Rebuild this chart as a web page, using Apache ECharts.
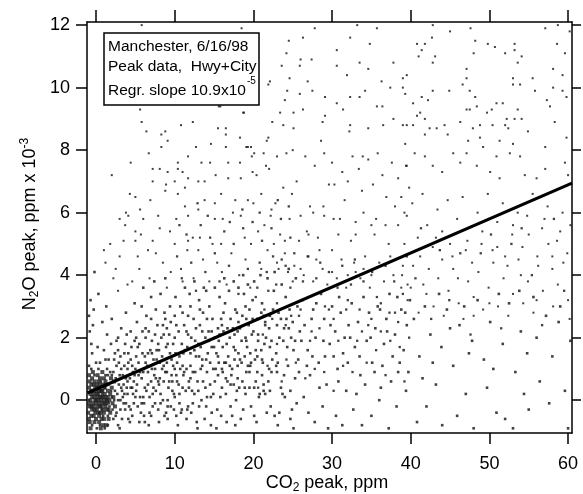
<!DOCTYPE html>
<html><head><meta charset="utf-8">
<script src="https://cdn.jsdelivr.net/npm/echarts@6/dist/echarts.min.js"></script>
<style>html,body{margin:0;padding:0;background:#fff}#c{width:583px;height:494px}</style>
</head><body><div id="c"></div>
<script>
// ---- data (CO2 peak ppm, N2O peak ppm x 1e-3) ----
const xTicks = [0, 10, 20, 30, 40, 50, 60];
const yTicks = [0, 2, 4, 6, 8, 10, 12];
const regrSlope = 0.109;      // 10.9e-5 ppm/ppm, in units of 1e-3
const regrIntercept = 0.35;
const regrRange = [-1.1, 60.5];

const core = [[-0.8,-0.2],[-0.5,0.1],[-0.2,-0.3],[0.1,0.2],[0.4,-0.1],[0.7,0.3],[1.0,0.0],[-0.9,0.4],[-0.6,-0.5],[-0.3,0.5],[0.0,-0.6],[0.3,0.6],[0.6,-0.4],[0.9,0.5],[1.2,-0.2],[1.5,0.3],[-0.7,0.0],[-0.4,-0.1],[-0.1,0.0],[0.2,-0.2],[0.5,0.1],[0.8,-0.1],[1.1,0.2],[1.4,-0.3],[1.7,0.0],[2.0,0.4],[-1.0,-0.4],[-0.5,0.7],[0.0,0.3],[0.5,0.5],[1.0,0.7],[1.3,0.5],[1.8,-0.4],[2.2,0.1],[-0.8,-0.7],[-0.2,-0.7],[0.4,-0.7],[1.0,-0.6],[1.6,-0.6],[2.4,-0.2],[-0.6,0.3],[-0.1,0.4],[0.3,0.0],[0.6,0.0],[0.9,0.1],[0.2,0.1],[-0.3,-0.2],[0.0,-0.1],[0.4,0.3],[0.7,-0.2],[1.2,0.1],[-0.9,0.8],[-0.4,0.9],[0.2,0.8],[0.8,0.9],[1.9,0.7],[2.3,0.6],[-0.7,-0.9],[0.6,-0.9],[1.3,-0.8],
[-0.9,-0.1],[-0.7,0.2],[-0.5,-0.3],[-0.3,0.2],[-0.1,-0.4],[0.1,0.5],[0.3,-0.4],[0.5,-0.2],[0.7,0.1],[0.9,-0.3],[1.1,0.4],[1.3,-0.1],[1.5,0.1],[-0.8,0.6],[-0.6,-0.2],[-0.4,0.3],[-0.2,0.1],[0.0,0.0],[0.2,0.4],[0.4,-0.5],[0.6,0.3],[0.8,0.3],[1.0,-0.4],[1.2,0.6],[1.4,0.0],[1.6,-0.3],[1.8,0.2],[-0.9,-0.6],[-0.3,-0.5],[0.1,-0.3],[0.5,0.7],[0.9,-0.8],[-0.6,0.5],[-0.2,0.6],[0.3,0.2],[0.7,-0.6],[1.1,-0.1],[2.1,-0.1]];

const band = [[1.2,1.3],[1.5,-0.5],[1.8,0.9],[2.1,-0.3],[2.4,1.5],[2.7,0.2],[3.0,0.8],[3.3,-0.6],[3.6,1.1],[3.9,0.4],[4.2,-0.2],[4.5,1.7],[4.8,0.6],[1.4,2.1],[2.0,2.6],[2.6,1.9],[3.2,2.3],[3.8,2.8],[4.4,2.2],[4.9,3.1],[1.6,0.5],[2.2,0.9],[2.8,-0.8],[3.4,0.1],[4.0,1.0],[4.6,-0.5],[1.1,-0.9],[2.5,-0.5],[3.7,-0.3],[4.3,0.7],[1.9,1.8],[3.1,1.4],[4.1,1.5],[2.3,0.0],[3.5,0.5],[4.7,0.2],[1.3,3.0],[0.8,2.5],[-0.5,1.5],[-0.8,2.2],[0.2,1.7],[-0.3,2.9],[0.5,1.2],[-0.9,1.1],
[5.1,0.3],[5.4,1.2],[5.7,-0.4],[6.0,0.9],[6.3,2.0],[6.6,0.5],[6.9,1.6],[7.2,-0.2],[7.5,1.0],[7.8,2.4],[8.1,0.7],[8.4,1.4],[8.7,-0.5],[9.0,0.9],[9.3,2.1],[9.6,1.3],[9.9,0.2],[5.2,2.5],[5.8,3.0],[6.4,2.7],[7.0,3.3],[7.6,2.9],[8.2,3.4],[8.8,2.6],[9.4,3.0],[5.5,-0.7],[6.1,-0.1],[6.7,-0.8],[7.3,0.4],[7.9,-0.3],[8.5,0.0],[9.1,-0.6],[9.7,0.6],[5.3,1.7],[5.9,1.5],[6.5,1.1],[7.1,1.9],[7.7,1.3],[8.3,2.0],[8.9,1.7],[9.5,2.5],[5.6,0.1],[6.2,0.4],[6.8,0.1],[7.4,0.8],[8.0,0.5],[8.6,1.1],[9.2,0.4],[9.8,1.8],[6.0,3.6],[7.4,3.8],[8.8,3.9],[5.0,1.0],[6.2,1.4],[7.0,0.6],[8.0,1.6],[9.0,1.2],[9.9,-0.3],
[10.2,0.8],[10.5,2.2],[10.8,-0.4],[11.1,1.5],[11.4,0.3],[11.7,2.7],[12.0,1.1],[12.3,-0.1],[12.6,1.9],[12.9,0.6],[13.2,2.4],[13.5,1.3],[13.8,-0.6],[14.1,0.9],[14.4,3.0],[14.7,1.7],[10.1,3.3],[10.7,3.0],[11.3,3.6],[11.9,3.4],[12.5,3.8],[13.1,3.2],[13.7,3.6],[14.3,2.2],[14.9,0.2],[10.4,-0.8],[11.0,0.4],[11.6,-0.3],[12.2,0.3],[12.8,-0.7],[13.4,0.0],[14.0,-0.2],[14.6,-0.8],[10.3,1.2],[10.9,1.8],[11.5,1.0],[12.1,2.0],[12.7,1.4],[13.3,1.0],[13.9,2.0],[14.5,1.2],[10.6,0.2],[11.2,2.4],[11.8,0.6],[12.4,2.6],[13.0,1.8],[13.6,2.8],[14.2,1.5],[14.8,2.6],[10.0,2.7],[12.0,3.0],[14.0,3.5],
[15.2,1.0],[15.5,2.3],[15.8,0.1],[16.1,1.7],[16.4,3.1],[16.7,0.6],[17.0,2.0],[17.3,-0.5],[17.6,1.3],[17.9,2.8],[18.2,0.4],[18.5,1.9],[18.8,3.4],[19.1,0.9],[19.4,2.4],[19.7,-0.2],[15.1,3.6],[15.7,3.3],[16.3,3.9],[16.9,3.5],[17.5,3.8],[18.1,3.6],[18.7,4.0],[19.3,3.7],[19.9,3.2],[15.4,-0.3],[16.0,0.4],[16.6,-0.7],[17.2,0.8],[17.8,0.0],[18.4,-0.6],[19.0,0.2],[19.6,1.1],[15.3,1.5],[15.9,2.6],[16.5,1.2],[17.1,2.6],[17.7,1.6],[18.3,2.3],[18.9,1.4],[19.5,2.9],[15.6,1.9],[16.2,2.2],[16.8,1.4],[17.4,2.3],[18.0,1.1],[18.6,2.7],[19.2,1.7],[19.8,2.1],[16.0,1.0],[18.0,0.7],[19.0,3.0],
[20.2,1.3],[20.5,2.6],[20.8,0.2],[21.1,3.1],[21.4,1.8],[21.7,-0.4],[22.0,2.3],[22.3,0.9],[22.6,3.5],[22.9,1.5],[23.2,2.8],[23.5,0.4],[23.8,1.9],[24.1,3.3],[24.4,1.1],[24.7,-0.6],[25.0,2.5],[25.3,0.7],[25.6,3.0],[20.1,3.8],[20.9,4.0],[21.8,3.9],[22.7,4.1],[23.6,3.7],[24.5,4.2],[25.4,3.9],[20.4,-0.7],[21.3,0.5],[22.2,-0.2],[23.1,-0.8],[24.0,0.1],[24.9,-0.3],[20.6,1.9],[21.5,2.4],[22.4,1.3],[23.3,2.0],[24.2,2.6],[25.1,1.6],[20.3,0.6],[21.2,1.2],[22.1,1.7],[23.0,0.9],[23.9,2.3],[24.8,2.0],[25.7,1.3],[21.0,2.8],[22.5,2.9],[24.6,2.9],[25.9,2.2],[25.5,-0.1]];

const bandDense = [[2.2,0.6],[2.9,1.2],[3.3,0.3],[3.8,-0.1],[4.4,1.3],[4.9,0.8],[5.3,-0.2],[5.8,0.7],[6.3,1.2],[6.8,-0.4],[7.2,0.2],[7.7,1.6],[8.2,-0.1],[8.6,0.6],[9.1,1.8],[9.5,-0.2],[10.0,1.0],[10.5,0.5],[11.0,1.1],[11.5,-0.6],[12.0,0.7],[12.5,1.6],[13.0,0.3],[13.5,2.2],[14.0,1.3],[14.5,0.5],[15.0,1.7],[15.5,0.8],[16.0,2.4],[16.5,0.2],[17.0,1.1],[17.5,0.5],[18.0,2.2],[18.5,1.2],[19.0,2.0],[19.5,0.4],[20.0,2.2],[20.5,0.9],[21.0,1.6],[21.5,0.2],[22.0,1.0],[2.6,1.1],[3.1,0.0],[3.6,1.5],[4.1,-0.6],[4.6,0.4],[5.1,1.4],[5.6,0.9],[6.1,-0.5],[6.6,1.5],[7.1,1.0],[7.6,0.3],[8.1,1.2],[8.6,2.1],[9.1,0.0],[9.6,0.8],[10.1,1.5],[10.6,-0.1],[11.1,0.8],[11.6,1.7],[12.1,-0.4],[12.6,0.9],[13.1,1.4],[13.6,0.6],[14.1,2.6],[14.6,0.1],[15.1,2.0],[15.6,1.2],[16.1,0.9],[16.6,1.8],[17.1,-0.2],[17.6,2.1],[18.1,1.5],[18.6,0.6],[19.1,2.6],[19.6,1.5],[20.1,0.4],[20.6,2.1],[21.1,0.8],[21.6,2.0],[22.1,0.3],[1.5,0.8],[1.0,1.6],[0.5,-0.8],[0.0,1.2],[-0.6,1.8],[2.8,2.0],[3.9,2.1],[5.1,2.0],[6.3,2.3],[7.5,2.1],[8.7,2.8],[10.2,2.4],[11.7,2.1],[13.2,2.9],[14.7,2.2],[16.2,2.8],[17.7,2.9],[19.3,1.1],[21.3,2.7],[23.0,2.4],[-0.7,3.2],[-0.4,2.4],[-0.9,2.7],[0.3,3.4],[-0.2,4.1]];

const bandExtra = [[0.3,1.0],[0.7,-0.3],[1.1,0.4],[1.4,1.0],[1.7,-0.2],[2.0,0.8],[2.3,1.3],[2.6,-0.4],[2.9,0.5],[3.2,1.0],[3.5,-0.1],[3.8,0.7],[4.1,1.2],[4.4,-0.3],[4.7,0.9],[5.0,0.1],[0.6,0.6],[0.9,-0.5],[1.3,0.0],[1.6,1.3],[1.9,0.3],[2.2,-0.6],[2.5,0.7],[2.8,1.6],[3.1,-0.3],[3.4,0.8],[3.7,1.8],[4.0,0.2],[4.3,-0.7],[4.6,1.1],[4.9,1.9],[0.4,-0.4],[0.8,0.2],[1.2,0.8],[1.6,-0.1],[2.0,0.1],[2.4,0.3],[2.8,0.0],[3.2,0.4],[3.6,0.2],[4.0,0.6],[4.4,0.4],[4.8,-0.1],[-0.5,-0.8],[-0.9,0.0],[-0.6,1.0],[-0.2,0.8],[0.1,-0.9],[1.5,-0.8],[3.0,-0.9],
[5.2,0.5],[5.5,1.8],[5.8,-0.1],[6.1,1.0],[6.4,0.3],[6.7,2.2],[7.0,-0.5],[7.3,1.3],[7.6,0.7],[7.9,1.8],[8.2,0.2],[8.5,2.4],[8.8,0.9],[9.1,-0.2],[9.4,1.5],[9.7,0.3],[10.0,2.0],[10.3,0.6],[10.6,1.4],[10.9,-0.3],[11.2,0.9],[11.5,2.2],[11.8,0.4],[12.0,1.5],[5.4,0.8],[5.9,2.2],[6.2,-0.7],[6.6,0.9],[7.1,1.5],[7.5,-0.1],[7.9,0.6],[8.4,1.0],[8.9,-0.4],[9.3,0.6],[9.8,1.1],[10.2,-0.5],[10.7,1.0],[11.3,1.6],[11.7,-0.2],[6.0,0.1],[7.0,2.6],[8.0,-0.7],[9.0,2.3],[10.0,0.1],[11.0,2.8],
[12.3,0.9],[12.7,2.3],[13.1,-0.2],[13.5,1.1],[13.9,0.4],[14.3,1.9],[14.7,-0.4],[15.1,0.6],[15.5,1.4],[15.9,-0.5],[16.3,1.2],[16.7,2.3],[17.1,0.5],[17.5,1.7],[17.9,0.3],[18.3,1.3],[18.7,-0.3],[19.1,1.9],[19.5,0.9],[19.9,2.6],[20.3,1.6],[20.7,0.1],[21.1,1.3],[21.5,2.5],[21.9,0.6],[22.3,1.9],[22.7,-0.5],[23.1,1.2],[23.5,2.6],[23.9,0.8],[24.3,1.7],[24.7,0.3],[12.5,0.2],[13.3,1.7],[14.1,0.1],[14.9,1.0],[15.7,2.1],[16.5,0.7],[17.3,1.0],[18.1,2.5],[18.9,0.4],[19.7,1.2],[20.5,1.4],[21.3,0.3],[22.1,2.7],[22.9,1.1],[23.7,0.2],[24.5,2.3],[25.3,1.9],[25.8,0.9],[12.9,-0.9],[15.3,-0.9],[17.7,-0.8],[20.1,-0.5],[23.3,-0.4],[25.1,-0.9]];

const midDense = [[20.3,3.3],[20.8,4.4],[21.4,2.9],[21.9,3.5],[22.5,4.6],[23.0,3.1],[23.6,4.5],[24.1,2.4],[24.7,3.6],[25.2,4.7],[25.8,2.7],[26.3,3.8],[26.9,4.6],[27.4,2.2],[28.0,3.9],[28.5,4.4],[29.1,3.0],[29.6,4.1],[30.2,2.6],[30.7,3.6],[31.3,4.3],[31.8,2.9],[32.4,3.7],[32.9,4.5],[33.5,2.9],[34.0,3.8],[34.6,2.4],[35.1,4.1],[35.7,3.3],[36.2,2.2],[36.8,4.3],[37.3,2.8],[37.9,3.8],[38.4,2.5],[39.0,3.4],[39.5,4.6],
[20.6,0.4],[21.2,2.1],[21.8,1.1],[22.4,2.6],[23.0,1.8],[23.6,0.6],[24.2,1.3],[24.8,2.7],[25.4,1.2],[26.0,2.9],[26.6,0.7],[27.2,1.9],[27.8,1.0],[28.4,2.3],[29.0,0.9],[29.6,2.9],[30.2,0.3],[30.8,1.9],[31.4,1.1],[32.0,3.2],[32.6,0.9],[33.2,1.9],[33.8,2.2],[34.4,1.2],[35.0,2.6],[35.6,1.6],[36.2,3.1],[36.8,0.8],[37.4,1.9],[38.0,2.8],[38.6,1.7],[39.2,0.6],[39.8,2.0],
[10.3,4.6],[10.9,3.9],[11.5,5.3],[12.1,4.4],[12.7,3.5],[13.3,5.6],[13.9,4.1],[14.5,5.2],[15.1,4.7],[15.7,3.8],[16.3,5.4],[16.9,4.3],[17.5,5.0],[18.1,3.4],[18.7,5.5],[19.3,4.2],[19.9,5.7],[20.5,3.6],[21.1,5.1],[21.7,4.1],[22.3,5.5],[22.9,3.7],[23.5,5.8],[24.1,4.3],[24.7,5.2],[10.6,5.6],[12.9,6.3],[14.2,5.9],[17.0,5.7],[18.6,6.1],[20.8,6.0],[23.1,6.4],[24.5,6.2],
[40.6,3.9],[41.3,5.5],[42.6,2.6],[43.7,4.8],[44.9,3.2],[46.3,4.7],[47.6,2.1],[48.9,4.7],[50.2,5.3],[51.5,2.3],[52.8,5.0],[54.1,5.5],[55.4,4.0],[56.7,2.4],[58.2,5.8],[59.5,3.5]];

const midLeft = [[5.6,9.3],[15.8,9.4],[18.8,9.2],[10.8,8.8],[12.3,8.9],[6.4,8.6],[8.3,8.5],[8.8,8.6],[9.1,8.3],[8.3,8.1],[6.7,7.9],[4.4,7.6],[7.2,7.4],[8.1,7.4],[9.1,7.3],[10.4,7.6],[11.7,7.8],[12.7,8.1],[14.6,8.2],[15.5,8.7],[16.5,8.7],[16.5,8.1],[18.3,8.4],[19.1,8.1],[19.7,8.1],[13.4,7.6],[14.5,7.6],[16.8,7.6],[18.3,7.6],[10.4,7.4],[11.0,7.3],[8.9,6.9],[7.2,7.0],[5.0,6.5],[6.9,6.4],[8.8,6.7],[10.0,7.0],[11.7,7.1],[13.0,7.0],[13.8,7.0],[15.2,7.2],[16.8,7.1],[18.4,7.1],[19.9,7.3],[3.8,6.0],[5.6,6.1],[6.0,5.8],[7.9,5.9],[3.7,5.6],[5.0,5.4],[5.7,5.3],[8.1,5.5],[9.4,5.4],[10.2,5.8],[11.3,6.2],[11.7,5.9],[13.0,6.1],[13.8,6.4],[15.1,6.3],[15.9,6.6],[17.7,6.4],[19.3,6.4],[17.4,6.0],[18.4,5.9],[15.1,5.8],[16.1,5.8],[10.4,6.6],[11.3,6.8],[10.0,5.0],[11.7,5.1],[7.2,5.1],[13.2,5.2],[15.9,5.0],[18.9,5.2],[19.7,5.0],[5.0,5.1],[4.1,5.9]];

const midLow = [[1.0,4.8],[2.2,3.9],[3.0,4.6],[4.0,3.7],[5.5,4.2],[6.8,3.9],[7.6,4.7],[8.5,4.4],[9.0,3.6],[10.8,4.2],[11.6,4.8],[12.4,3.9],[13.6,4.5],[14.4,3.8],[15.4,4.4],[16.6,3.7],[17.2,4.7],[18.2,4.0],[19.0,4.5],[19.6,3.6],[2.8,3.5],[1.8,5.0],[6.6,4.8],[13.0,4.8],[2.5,4.2],[3.5,5.1],[4.6,3.8],[5.3,4.6],[11.0,3.8],[16.0,4.1],[9.5,4.1],[12.3,5.2],[14.8,5.0],[1.2,4.4],[4.3,6.6],[3.0,5.8],[2.0,7.2]];

const midCenter = [[19.8,7.8],[20.4,7.2],[21.0,6.6],[21.6,7.5],[22.2,5.9],[22.8,6.3],[23.4,5.3],[24.0,4.7],[24.6,5.8],[25.2,4.3],[25.8,5.1],[26.4,4.0],[27.0,4.6],[27.6,3.8],[28.2,5.2],[28.8,4.2],[29.4,3.7],[30.0,4.8],[30.6,3.9],[31.2,4.5],[31.8,3.6],[32.4,5.1],[33.0,4.1],[33.6,3.9],[34.2,4.6],[34.8,3.6],[35.4,5.3],[36.0,4.4],[36.6,3.8],[37.2,5.0],[37.8,4.0],[38.4,5.6],[39.0,4.3],[39.6,3.7],[20.1,7.9],[21.3,7.9],[22.0,7.4],[23.0,7.8],[24.2,7.9],[26.6,7.8],[27.8,7.5],[29.0,7.9],[30.0,7.6],[31.3,7.3],[32.6,7.8],[33.4,7.4],[34.6,7.7],[35.8,7.9],[36.4,7.2],[37.6,7.6],[38.4,7.1],[39.4,7.5],[39.8,6.8],[35.2,6.9],[36.9,6.5],[38.0,6.2],[39.2,6.0],[34.0,6.0],[35.6,5.8],[36.8,5.6],[33.0,5.7],[31.6,6.4],[30.2,5.8],[28.9,6.2],[27.2,6.2],[26.0,5.9],[29.6,6.9],[32.0,7.0],[33.8,6.7],[25.5,7.0],[23.8,6.8],[21.4,5.6],[20.6,5.4],[22.6,5.0],[24.4,4.1],[37.4,4.6],[38.8,3.6],[35.0,4.0],[32.8,4.4],[30.8,5.3],[28.4,4.8],[26.8,5.4],[25.0,3.8],[23.2,4.2],[21.8,4.8],[20.0,6.3],[21.0,4.2],[23.0,4.4],[24.0,5.1],[26.0,4.2],[27.0,5.3],[28.0,4.5],[29.0,5.9],[30.0,4.1],[31.0,5.8],[32.0,4.0],[33.0,5.3],[34.0,4.2],[35.0,5.6],[27.6,6.0],[30.3,6.9],[33.9,7.8],[22.3,6.1],[24.9,6.6]];

const upper = [[5.8,12.0],[18.5,11.9],[15.6,9.4],[18.7,9.2],[22.1,10.2],[24.5,11.5],[26.0,10.9],[27.5,9.9],[28.8,8.9],[25.1,8.7],[21.9,10.1],[27.8,11.9],[33.2,12.0],[35.7,11.9],[34.8,11.4],[26.3,11.6],[24.2,11.1],[27.4,10.9],[30.6,11.2],[32.3,11.6],[37.8,10.8],[34.6,10.6],[33.5,10.8],[31.9,10.4],[30.6,10.7],[26.9,10.2],[24.6,10.3],[23.6,10.7],[25.9,10.7],[29.1,9.7],[24.3,9.9],[24.0,9.6],[25.9,9.8],[30.6,9.5],[32.3,9.7],[33.5,9.7],[34.2,9.9],[36.3,10.2],[39.0,10.3],[37.4,10.0],[39.3,9.8],[35.7,9.4],[36.4,9.4],[31.4,9.3],[29.1,9.1],[26.3,9.3],[25.1,9.2],[23.4,9.2],[23.8,8.8],[22.4,8.9],[32.3,8.8],[34.6,8.7],[36.5,8.8],[37.8,9.0],[39.0,8.8],[21.7,8.3],[16.5,8.5],[19.3,8.1],[21.9,8.4],[25.0,8.0],[28.6,8.3],[32.2,8.6],[5.8,8.9],
[42.8,12.0],[45.0,11.8],[47.6,11.9],[42.7,11.6],[40.8,11.4],[41.8,11.4],[48.2,11.5],[49.8,11.4],[53.2,11.4],[57.1,11.9],[58.7,12.0],[60.2,11.8],[58.6,11.4],[50.7,11.3],[41.4,11.2],[41.0,11.0],[43.1,11.0],[42.8,10.8],[48.0,11.1],[52.0,11.1],[53.2,11.2],[54.1,11.0],[53.6,10.8],[59.6,11.1],[58.1,10.6],[59.3,10.4],[47.1,10.6],[47.1,10.3],[46.6,10.1],[55.5,10.3],[53.0,10.3],[39.5,10.4],[39.0,10.0],[42.8,9.9],[44.9,9.9],[47.5,9.9],[53.0,10.1],[53.9,10.1],[55.8,9.9],[58.1,10.0],[59.3,9.9],[59.8,9.7],[41.4,9.7],[42.2,9.6],[48.2,9.7],[57.3,9.6],[40.3,9.5],[47.1,9.3],[47.5,9.3],[48.4,9.4],[50.9,9.5],[51.7,9.5],[50.3,9.3],[49.7,9.2],[53.6,9.3],[57.7,9.4],[41.2,9.2],[40.8,9.1],[41.8,9.0],[53.2,9.0],[52.2,9.0],[54.1,9.0],[58.3,8.9],[46.3,8.9],[50.4,8.8],[52.0,8.8],[39.5,8.8],[40.3,8.8],[42.4,8.7],[43.3,8.7],[44.3,8.8],[47.9,8.7],[48.8,8.8],[52.4,8.7],[54.9,8.6],[41.8,8.5],[44.7,8.5],[47.3,8.3],[48.8,8.4],[51.3,8.3],[53.0,8.2],[39.3,8.2],[59.8,8.4],[57.1,8.1],[40.5,7.9],[41.8,7.8],[45.4,7.9],[47.1,7.9],[49.2,8.1],[50.9,7.8],[52.6,7.9],[53.9,7.8],[59.6,7.6],[57.1,7.4],[39.5,7.5],[42.8,7.5],[44.0,7.3],[46.3,7.6],[48.4,7.5],[50.1,7.3],[51.3,7.1],[54.5,7.2],[56.0,7.1],[60.0,7.2]];

const right = [[38.8,6.5],[39.5,5.9],[40.2,6.3],[40.9,5.2],[41.5,6.6],[42.1,5.6],[42.8,4.9],[43.4,6.1],[44.0,5.4],[44.7,6.4],[45.3,4.6],[45.9,5.8],[46.6,6.5],[47.2,5.1],[47.8,4.4],[48.5,6.0],[49.1,5.4],[49.8,6.6],[50.4,4.8],[51.0,5.7],[51.7,6.3],[52.3,4.3],[52.9,5.3],[53.6,6.0],[54.2,4.9],[54.8,5.9],[55.5,6.6],[56.1,4.6],[56.7,5.5],[57.4,6.2],[58.0,4.2],[58.6,5.1],[59.3,6.0],[59.9,4.7],[60.3,5.6],[38.9,4.0],[39.6,3.2],[40.3,4.3],[41.0,2.8],[41.6,3.7],[42.3,4.2],[42.9,3.0],[43.5,3.9],[44.2,2.7],[44.8,3.5],[45.4,4.2],[46.1,3.1],[46.7,2.6],[47.3,3.8],[48.0,3.3],[48.6,4.1],[49.2,2.9],[49.9,3.6],[50.5,4.4],[51.1,3.0],[51.8,3.9],[52.4,2.7],[53.0,3.4],[53.7,4.5],[54.3,3.1],[54.9,3.8],[55.6,2.8],[56.2,4.3],[56.8,3.5],[57.5,5.0],[58.1,3.0],[58.7,3.7],[59.4,4.4],[60.0,3.2],[40.0,3.6],[42.0,3.4],[44.0,4.5],[46.0,3.9],[48.0,2.7],[50.0,3.1],[52.0,4.6],[54.0,4.0],[56.0,3.2],[58.0,4.6],[60.2,2.6],[39.2,5.0],[41.2,4.6],[43.2,5.2],[45.0,5.0],[47.0,4.8],[49.0,5.0],[51.0,4.9],[53.0,5.6],[55.0,5.3],[57.0,5.8],[59.0,5.4]];

const lowerRight = [[26.2,3.2],[26.5,2.4],[26.9,1.6],[27.2,0.8],[27.6,2.9],[27.9,2.0],[28.3,1.2],[28.6,3.4],[29.0,2.6],[29.3,0.5],[29.7,1.8],[30.0,3.0],[30.4,2.2],[30.7,1.0],[31.1,2.8],[31.4,1.5],[31.8,0.3],[32.1,2.4],[26.4,0.1],[27.0,-0.4],[27.8,-0.7],[28.8,-0.2],[29.5,-0.9],[30.5,-0.5],[31.3,-0.8],[26.8,1.1],[27.4,2.6],[28.0,3.1],[28.9,1.9],[29.8,2.4],[30.2,1.4],[30.9,3.3],[31.6,2.0],[32.0,1.2],[26.1,1.9],[27.5,1.4],[28.4,0.4],[29.1,1.4],[30.8,0.6],
[32.5,3.1],[32.9,1.7],[33.3,2.5],[33.6,0.8],[34.0,3.3],[34.4,1.9],[34.7,2.8],[35.1,1.2],[35.5,2.3],[35.8,3.0],[36.2,0.4],[36.6,1.8],[36.9,2.6],[37.3,3.4],[37.7,1.4],[38.0,2.1],[38.4,0.9],[38.8,2.9],[39.1,1.6],[39.5,2.4],[39.9,3.2],[32.7,-0.3],[33.8,-0.8],[35.0,-0.5],[36.0,0.0],[37.2,-0.9],[38.2,-0.2],[39.4,0.3],[33.1,0.2],[34.2,0.5],[35.4,0.9],[36.4,1.1],[37.5,0.6],[38.6,1.2],[39.7,0.9],[32.3,2.0],[33.5,1.4],[34.9,2.0],[36.1,2.9],[37.0,2.2],[38.3,3.3],[39.3,2.8],
[40.4,2.6],[41.1,1.4],[41.8,3.0],[42.5,2.1],[43.2,0.5],[43.9,1.7],[44.6,2.9],[45.4,1.1],[46.2,2.4],[47.0,0.2],[47.8,1.9],[48.5,3.2],[49.3,1.3],[50.1,2.5],[50.9,-0.4],[51.7,1.8],[52.5,3.1],[53.3,0.9],[54.0,2.2],[54.8,1.5],[55.6,3.3],[56.4,0.6],[57.2,2.7],[58.0,1.4],[58.8,2.5],[59.6,0.3],[60.3,1.9],[40.8,-0.7],[42.0,-0.2],[44.0,-0.8],[45.9,-0.5],[48.0,-0.9],[49.7,0.4],[52.0,-0.6],[53.0,-0.9],[55.0,-0.3],[57.6,-0.1],[60.0,-0.9],[41.5,0.7],[43.6,3.4],[46.8,3.0],[51.2,3.4],[53.8,3.5],[56.0,2.0],[59.0,3.0],[42.8,1.2],[45.0,2.3],[47.4,1.5],[50.5,1.0],[54.4,0.2]];

const FONT = '"Liberation Sans", Arial, sans-serif';
const chart = echarts.init(document.getElementById('c'), null, {renderer: 'canvas'});

const sparseAll = [].concat(midLeft, midLow, midCenter, upper, right);
const mediumAll = [].concat(midDense);
const denseAll = [].concat(band, bandDense, bandExtra, lowerRight);
const regrLine = regrRange.map(x => [x, regrIntercept + regrSlope * x]);

const axisCommon = {
  axisLine: {show: true, onZero: false, lineStyle: {color: '#000', width: 1.5}},
  splitLine: {show: false}
};

chart.setOption({
  animation: false,
  backgroundColor: '#fff',
  grid: {left: 87, right: 11, top: 22, bottom: 61, show: false},
  xAxis: [
    Object.assign({}, axisCommon, {
      type: 'value', position: 'bottom', min: -1.15, max: 60.5,
      axisTick: {show: true, inside: false, length: 11, customValues: xTicks, lineStyle: {color: '#000', width: 1.5}},
      axisLabel: {show: true, customValues: xTicks, margin: 22, color: '#000', fontSize: 18, fontFamily: FONT}
    }),
    Object.assign({}, axisCommon, {
      type: 'value', position: 'top', min: -1.15, max: 60.5,
      axisTick: {show: true, inside: false, length: 12, customValues: xTicks, lineStyle: {color: '#000', width: 1.5}},
      axisLabel: {show: false}
    })
  ],
  yAxis: [
    Object.assign({}, axisCommon, {
      type: 'value', position: 'left', min: -1.05, max: 12.1,
      axisTick: {show: true, inside: false, length: 11, customValues: yTicks, lineStyle: {color: '#000', width: 1.5}},
      axisLabel: {show: true, customValues: yTicks, margin: 17, color: '#000', fontSize: 18, fontFamily: FONT}
    }),
    Object.assign({}, axisCommon, {
      type: 'value', position: 'right', min: -1.05, max: 12.1,
      axisTick: {show: true, inside: false, length: 9, customValues: yTicks, lineStyle: {color: '#000', width: 1.5}},
      axisLabel: {show: false}
    })
  ],
  series: [
    {type: 'scatter', data: sparseAll, symbol: 'rect', symbolSize: 2, itemStyle: {color: '#111'}, silent: true},
    {type: 'scatter', data: mediumAll, symbol: 'rect', symbolSize: 2.3, itemStyle: {color: '#111'}, silent: true},
    {type: 'scatter', data: denseAll, symbol: 'rect', symbolSize: 2.6, itemStyle: {color: '#111'}, silent: true},
    {type: 'scatter', data: core, symbol: 'rect', symbolSize: 4, itemStyle: {color: '#222'}, silent: true},
    {type: 'line', data: regrLine, symbol: 'none', lineStyle: {color: '#000', width: 3.2}, silent: true, z: 5}
  ],
  graphic: [
    {type: 'rect', z: 100, shape: {x: 104, y: 33, width: 155, height: 72}, style: {fill: '#fff', stroke: '#000', lineWidth: 1.5}},
    {type: 'text', z: 101, x: 108, y: 47, style: {text: 'Manchester, 6/16/98', font: '15.5px ' + FONT, fill: '#000', verticalAlign: 'middle'}},
    {type: 'text', z: 101, x: 108, y: 66.5, style: {text: 'Peak data,  Hwy+City', font: '15.5px ' + FONT, fill: '#000', verticalAlign: 'middle'}},
    {type: 'text', z: 101, x: 108, y: 91, style: {text: 'Regr. slope 10.9x10', font: '15.5px ' + FONT, fill: '#000', verticalAlign: 'middle'}},
    {type: 'text', z: 101, x: 247, y: 81, style: {text: '-5', font: '10px ' + FONT, fill: '#000', verticalAlign: 'middle'}},
    {type: 'text', z: 101, x: 327, y: 483, style: {
      text: '{m|CO}{s|2}{m| peak, ppm}', align: 'center', verticalAlign: 'middle',
      rich: {m: {font: '18px ' + FONT, fill: '#000', lineHeight: 22, verticalAlign: 'middle'}, s: {font: '12px ' + FONT, fill: '#000', lineHeight: 12, verticalAlign: 'bottom'}}
    }},
    {type: 'text', z: 101, x: 30, y: 224, rotation: Math.PI / 2, style: {
      text: '{m|N}{s|2}{m|O peak, ppm x 10}{p|-3}', align: 'center', verticalAlign: 'middle',
      rich: {m: {font: '18px ' + FONT, fill: '#000', lineHeight: 22, verticalAlign: 'middle'}, s: {font: '12px ' + FONT, fill: '#000', lineHeight: 12, verticalAlign: 'bottom'}, p: {font: '12px ' + FONT, fill: '#000', lineHeight: 12, verticalAlign: 'top'}}
    }}
  ]
});
</script></body></html>
